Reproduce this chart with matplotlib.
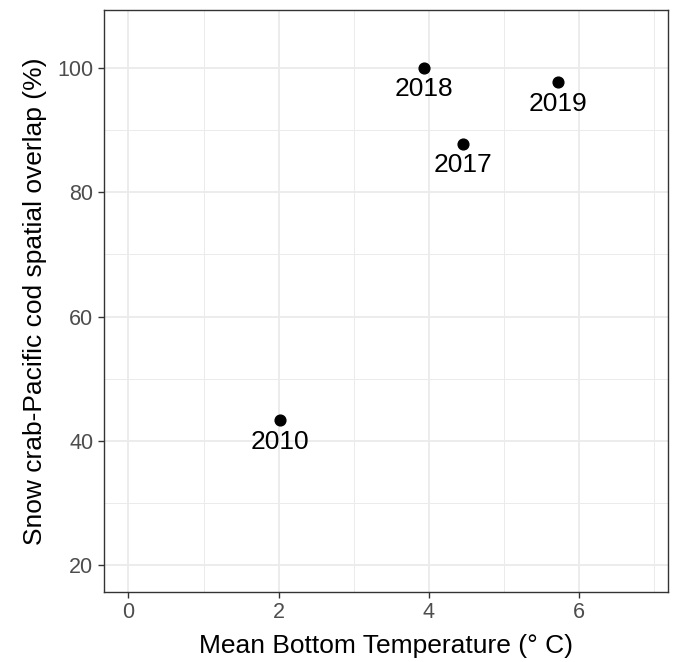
import matplotlib
matplotlib.use("Agg")
import matplotlib.pyplot as plt
from matplotlib.ticker import MultipleLocator

plt.rcParams['font.family'] = ['Liberation Sans', 'DejaVu Sans']

# donnees
years = ['2010', '2017', '2018', '2019']
temp = [2.02, 4.46, 3.93, 5.72]
overlap = [43.3, 87.8, 100.0, 97.7]

fig = plt.figure(figsize=(6.82, 6.62), dpi=100)
ax = fig.add_axes([0.152, 0.106, 0.828, 0.879])

# grille facon theme_bw
ax.xaxis.set_major_locator(MultipleLocator(2))
ax.xaxis.set_minor_locator(MultipleLocator(1))
ax.yaxis.set_major_locator(MultipleLocator(20))
ax.yaxis.set_minor_locator(MultipleLocator(10))
ax.grid(which='major', color='#EBEBEB', linewidth=1.3)
ax.grid(which='minor', color='#EBEBEB', linewidth=0.7)
ax.set_axisbelow(True)

ax.scatter(temp, overlap, s=60, color='black', zorder=3)
for yr, x, y in zip(years, temp, overlap):
    ax.annotate(yr, (x, y), xytext=(0, -15.5), textcoords='offset points',
                ha='center', va='center', fontsize=19, color='black')

ax.set_xlim(-0.33, 7.19)
ax.set_ylim(15.75, 109.3)
ax.set_xticks([0, 2, 4, 6])
ax.set_yticks([20, 40, 60, 80, 100])

for s in ax.spines.values():
    s.set_color('#333333')
    s.set_linewidth(1.0)
ax.tick_params(which='major', length=4.5, width=1.0, color='#333333',
               labelsize=15.5, labelcolor='#4D4D4D', pad=3)
ax.tick_params(which='minor', length=0)

ax.set_xlabel('Mean Bottom Temperature (° C)', fontsize=19, labelpad=8)
ax.set_ylabel('Snow crab-Pacific cod spatial overlap (%)', fontsize=19, labelpad=7)

fig.savefig('out.png', dpi=100)
